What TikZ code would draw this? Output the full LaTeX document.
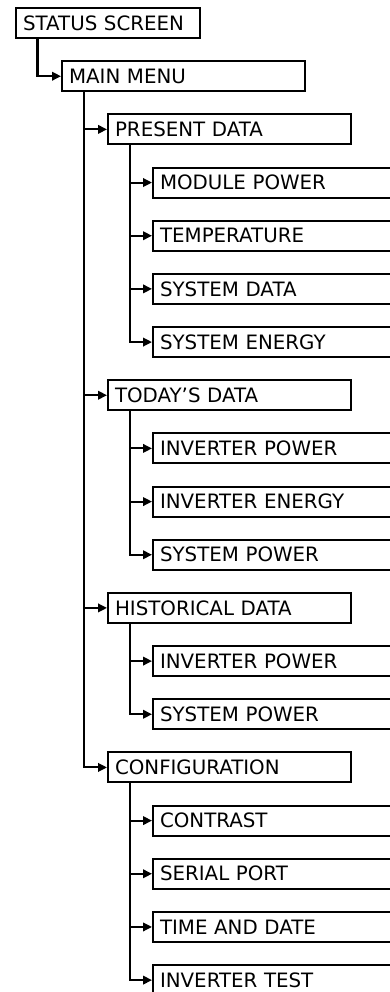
\documentclass[tikz,border=0pt]{standalone}
\usepackage{fontspec}
\setmainfont{DejaVu Sans}
\usetikzlibrary{arrows.meta}
\begin{document}
\begin{tikzpicture}[x=1pt,y=-1pt,
  box/.style={draw, line width=2.1pt, rectangle, anchor=north west,
    minimum height=30pt, inner ysep=0pt, inner xsep=7pt,
    text height=14.4pt, text depth=0pt,
    font=\fontsize{19.8}{24}\selectfont, align=left, text width=229pt},
  lv0/.style={box, text width=170pt},
  conn/.style={line width=2.1pt, -{Triangle[length=9pt,width=8.5pt]}}]
\useasboundingbox (0,0) rectangle (390,992);
\clip (0,0) rectangle (390,992);
\node[lv0] (s0) at (15,7) {STATUS SCREEN};
\node[box] (mm) at (61,60.17) {MAIN MENU};
\node[box] (pd) at (107,113.34) {PRESENT DATA};
\node[box] (mp) at (152,166.51) {MODULE POWER};
\node[box] (tp) at (152,219.68) {TEMPERATURE};
\node[box] (sd) at (152,272.85) {SYSTEM DATA};
\node[box] (se) at (152,326.02) {SYSTEM ENERGY};
\node[box] (td) at (107,379.19) {TODAY’S DATA};
\node[box] (ip1) at (152,432.36) {INVERTER POWER};
\node[box] (ie) at (152,485.53) {INVERTER ENERGY};
\node[box] (sp1) at (152,538.7) {SYSTEM POWER};
\node[box] (hd) at (107,591.87) {HISTORICAL DATA};
\node[box] (ip2) at (152,645.04) {INVERTER POWER};
\node[box] (sp2) at (152,698.21) {SYSTEM POWER};
\node[box] (cf) at (107,751.38) {CONFIGURATION};
\node[box] (ct) at (152,804.55) {CONTRAST};
\node[box] (sr) at (152,857.72) {SERIAL PORT};
\node[box] (tm) at (152,910.89) {TIME AND DATE};
\node[box] (it) at (152,964.06) {INVERTER TEST};
\draw[conn] ([xshift=22.5pt]s0.south west) |- (mm.west);
\foreach \c in {pd,td,hd,cf}
  \draw[conn] ([xshift=23pt]mm.south west) |- (\c.west);
\foreach \c in {mp,tp,sd,se}
  \draw[conn] ([xshift=23pt]pd.south west) |- (\c.west);
\foreach \c in {ip1,ie,sp1}
  \draw[conn] ([xshift=23pt]td.south west) |- (\c.west);
\foreach \c in {ip2,sp2}
  \draw[conn] ([xshift=23pt]hd.south west) |- (\c.west);
\foreach \c in {ct,sr,tm,it}
  \draw[conn] ([xshift=23pt]cf.south west) |- (\c.west);
\end{tikzpicture}
\end{document}
